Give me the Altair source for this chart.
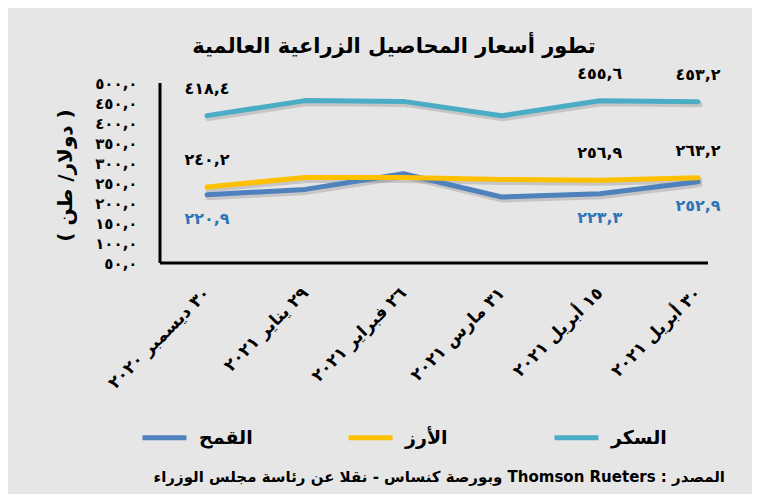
import altair as alt
import pandas as pd

FONT = "DejaVu Sans"

title_text = "تطور أسعار المحاصيل الزراعية العالمية"
y_title = "( دولار/ طن )"
footer_text = "\u202Bالمصدر :  Thomson Rueters   وبورصة كنساس - نقلا عن رئاسة مجلس الوزراء\u202C"

dates = ["٣٠ ديسمبر ٢٠٢٠", "٢٩ يناير ٢٠٢١", "٢٦ فبراير ٢٠٢١",
         "٣١ مارس ٢٠٢١", "١٥ أبريل ٢٠٢١", "٣٠ أبريل ٢٠٢١"]
series_names = ["القمح", "الأرز", "السكر"]
wheat = [220.9, 234.0, 273.0, 215.0, 223.3, 252.9]
rice = [240.2, 264.0, 264.0, 259.0, 256.9, 263.2]
sugar = [418.4, 456.0, 454.0, 418.0, 455.6, 453.2]
labeled_dates = [dates[0], dates[4], dates[5]]
colors = ["#4F81BD", "#FFC000", "#4BACC6"]

y_tick_values = [50, 100, 150, 200, 250, 300, 350, 400, 450, 500]

AR = str.maketrans("0123456789.", "٠١٢٣٤٥٦٧٨٩,")


def ar(v):
    return f"{v:.1f}".translate(AR)


y_tick_labels = [ar(v) for v in y_tick_values]

rows = []
for name, vals in zip(series_names, [wheat, rice, sugar]):
    for d, v in zip(dates, vals):
        rows.append({"date": d, "series": name, "value": v, "label": ar(v)})
df = pd.DataFrame(rows)
lab = df[df["date"].isin(labeled_dates)]

W, H = 548, 180

x_enc = alt.X("date:N", sort=dates,
              scale=alt.Scale(type="point", domain=dates, range=[47, 538], padding=0),
              axis=alt.Axis(domain=False, ticks=False, grid=False, title=None,
                            labelAngle=315, labelAlign="right", labelBaseline="middle",
                            labelPadding=27, labelFontSize=17, labelFont=FONT,
                            labelFontWeight="bold", labelColor="black", labelLimit=300))
label_expr = "[" + ",".join("'" + s + "'" for s in y_tick_labels) + "][round(datum.value/50)-1]"
y_enc = alt.Y("value:Q", scale=alt.Scale(domain=[50, 500], nice=False, zero=False),
              axis=alt.Axis(values=y_tick_values, labelExpr=label_expr, domain=False,
                            ticks=False, grid=False, labelOverlap=False, labelPadding=23,
                            labelFontSize=15, labelFont=FONT, labelFontWeight="bold",
                            labelColor="black",
                            title=y_title, titleFont=FONT, titleFontSize=20,
                            titleFontWeight="bold", titleColor="black", titleX=-95,
                            titleY=92, titleAngle=270, titleAlign="center",
                            titleBaseline="middle"))

shadow = alt.Chart(df).mark_line(strokeWidth=6, strokeCap="round", strokeJoin="round",
                                 color="#7a7a7a", opacity=0.3).encode(
    x=x_enc, y=y_enc, detail="series:N",
    xOffset=alt.value(1.5), yOffset=alt.value(2.5))

lines = alt.Chart(df).mark_line(strokeWidth=5, strokeCap="round", strokeJoin="round").encode(
    x=x_enc, y=y_enc,
    color=alt.Color("series:N", scale=alt.Scale(domain=series_names, range=colors),
                    legend=alt.Legend(orient="none", legendX=-20, legendY=330,
                                      direction="horizontal", columns=3, title=None,
                                      symbolType="stroke", symbolSize=1936,
                                      symbolStrokeWidth=5, labelFontSize=19,
                                      labelFont=FONT, labelFontWeight="bold",
                                      labelColor="black", labelOffset=10,
                                      columnPadding=83, gridAlign="all", padding=0)),
    detail="series:N",
)

above = alt.Chart(lab[lab["series"] != "القمح"]).mark_text(
    dy=-27, fontSize=16, font=FONT, fontWeight="bold", color="black").encode(
    x=x_enc, y=y_enc, text="label:N")
below = alt.Chart(lab[lab["series"] == "القمح"]).mark_text(
    dy=24, fontSize=16, font=FONT, fontWeight="bold", color="#2E75B6").encode(
    x=x_enc, y=y_enc, text="label:N")

dummy = pd.DataFrame({"a": [0]})
y_axis_line = alt.Chart(dummy).mark_rule(color="black", strokeWidth=3).encode(
    x=alt.value(0), y=alt.value(0), y2=alt.value(H))
x_axis_line = alt.Chart(dummy).mark_rule(color="black", strokeWidth=3).encode(
    x=alt.value(0), x2=alt.value(W), y=alt.value(H))

footer = alt.Chart(pd.DataFrame({"t": [footer_text]})).mark_text(
    align="right", baseline="middle", fontSize=15, font=FONT, fontWeight="bold",
    color="black").encode(x=alt.value(565), y=alt.value(394), text="t:N")

chart = alt.layer(shadow, lines, above, below, y_axis_line, x_axis_line, footer).properties(
    width=W, height=H,
    title=alt.TitleParams(text=title_text, fontSize=21, font=FONT, fontWeight="bold",
                          color="black", anchor="middle", dx=-40, offset=9),
    autosize=alt.AutoSizeParams(type="none"),
    padding={"left": 152, "top": 75, "right": 44, "bottom": 231},
    background="#e6e6e6",
).configure_view(stroke=None).configure_axisY(labelOverlap=False)

chart.save("out.html", embed_options={"renderer": "svg", "actions": False})
